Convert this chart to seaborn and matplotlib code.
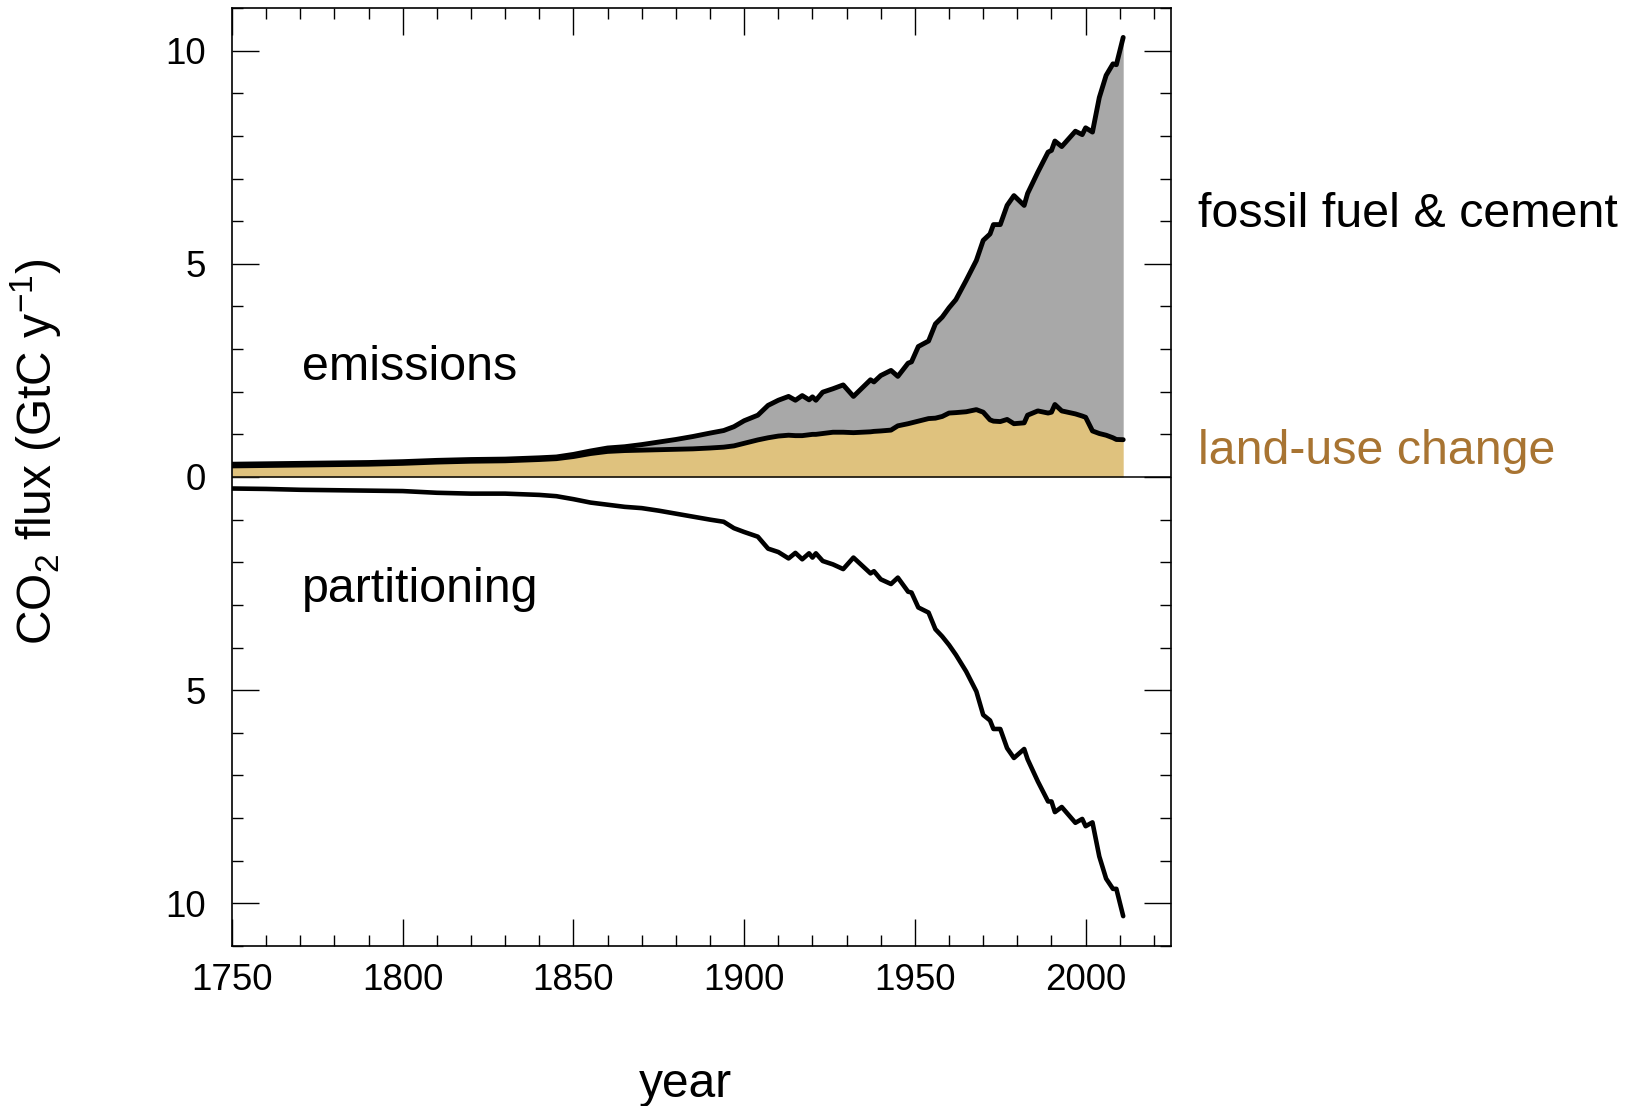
import numpy as np
import pandas as pd
import matplotlib
matplotlib.use("Agg")
import matplotlib.pyplot as plt
from matplotlib.ticker import MultipleLocator, FixedLocator, FixedFormatter
import seaborn as sns

# ---------------- data (GtC per year) ----------------
years = [1750, 1760, 1770, 1780, 1790, 1800, 1810, 1820, 1830, 1840, 1845, 1850,
         1855, 1860, 1865, 1870, 1875, 1880, 1885, 1890, 1894, 1897, 1900, 1904,
         1907, 1910, 1913, 1915, 1917, 1919, 1920, 1921, 1923, 1926, 1929, 1932,
         1937, 1938, 1940, 1943, 1945, 1948, 1949, 1951, 1954, 1956, 1958, 1960,
         1962, 1965, 1968, 1970, 1972, 1973, 1975, 1977, 1979, 1982, 1983, 1986,
         1989, 1990, 1991, 1993, 1997, 1999, 2000, 2002, 2004, 2006, 2008, 2009,
         2011]

# top of the stacked emissions (land-use change + fossil fuel & cement)
emissions_total = [0.30, 0.31, 0.32, 0.33, 0.34, 0.36, 0.39, 0.41, 0.42, 0.45, 0.47, 0.53,
                   0.61, 0.68, 0.71, 0.76, 0.82, 0.88, 0.95, 1.03, 1.09, 1.18, 1.32, 1.45,
                   1.68, 1.80, 1.89, 1.80, 1.91, 1.81, 1.88, 1.80, 1.99, 2.07, 2.16, 1.89,
                   2.28, 2.23, 2.38, 2.50, 2.36, 2.67, 2.70, 3.06, 3.19, 3.59, 3.75, 3.97,
                   4.16, 4.61, 5.08, 5.55, 5.70, 5.92, 5.92, 6.37, 6.60, 6.37, 6.65, 7.15,
                   7.62, 7.66, 7.88, 7.75, 8.11, 8.03, 8.19, 8.09, 8.90, 9.42, 9.69, 9.67,
                   10.31]

land_use_change = [0.26, 0.27, 0.28, 0.29, 0.30, 0.32, 0.35, 0.37, 0.38, 0.41, 0.43, 0.48,
                   0.55, 0.60, 0.62, 0.63, 0.64, 0.65, 0.66, 0.68, 0.70, 0.73, 0.79, 0.87,
                   0.92, 0.96, 0.98, 0.97, 0.97, 0.99, 1.00, 1.00, 1.02, 1.05, 1.05, 1.04,
                   1.06, 1.07, 1.08, 1.10, 1.20, 1.25, 1.27, 1.31, 1.37, 1.38, 1.42, 1.50,
                   1.51, 1.53, 1.58, 1.52, 1.34, 1.31, 1.30, 1.35, 1.25, 1.27, 1.45, 1.55,
                   1.50, 1.52, 1.70, 1.55, 1.48, 1.43, 1.40, 1.08, 1.02, 0.98, 0.92, 0.88,
                   0.875]

# partitioning of emissions into sinks (shown downward)
partitioning = [0.27, 0.28, 0.30, 0.31, 0.32, 0.33, 0.37, 0.39, 0.39, 0.42, 0.45, 0.52,
                0.60, 0.65, 0.70, 0.73, 0.79, 0.86, 0.93, 1.00, 1.05, 1.20, 1.29, 1.40,
                1.68, 1.76, 1.91, 1.78, 1.93, 1.79, 1.89, 1.79, 1.97, 2.05, 2.16, 1.89,
                2.26, 2.21, 2.40, 2.51, 2.36, 2.69, 2.71, 3.06, 3.18, 3.57, 3.74, 3.94,
                4.17, 4.56, 5.03, 5.58, 5.71, 5.91, 5.91, 6.36, 6.59, 6.38, 6.62, 7.14,
                7.61, 7.61, 7.86, 7.74, 8.11, 8.02, 8.19, 8.10, 8.90, 9.42, 9.66, 9.66,
                10.30]

y_major = [-10, -5, 0, 5, 10]
y_major_labels = ["10", "5", "0", "5", "10"]
x_major = [1750, 1800, 1850, 1900, 1950, 2000]

df = pd.DataFrame({"year": years,
                   "total": emissions_total,
                   "land": land_use_change,
                   "sink": -np.asarray(partitioning)})

# ---------------- style ----------------
sns.set_style("ticks")
plt.rcParams["font.family"] = ["Liberation Sans", "DejaVu Sans"]
plt.rcParams["mathtext.fontset"] = "custom"
plt.rcParams["mathtext.rm"] = "Liberation Sans"
plt.rcParams["mathtext.it"] = "Liberation Sans:italic"
plt.rcParams["mathtext.bf"] = "Liberation Sans:bold"
plt.rcParams["text.color"] = "black"
plt.rcParams["axes.labelcolor"] = "black"
plt.rcParams["xtick.color"] = "black"
plt.rcParams["ytick.color"] = "black"
plt.rcParams["xtick.labelcolor"] = "black"
plt.rcParams["ytick.labelcolor"] = "black"

GRAY = "#a8a8a8"
TAN = "#dfc27e"
BROWN = "#a87432"

W, H = 1641, 1106
fig = plt.figure(figsize=(W / 100, H / 100), dpi=100)
ax = fig.add_axes([232 / W, 1 - 946 / H, (1171 - 232) / W, (946 - 8) / H])

# fills
ax.fill_between(df["year"], 0, df["land"], color=TAN, lw=0, zorder=1)
ax.fill_between(df["year"], df["land"], df["total"], color=GRAY, lw=0, zorder=1)

# lines
ax.axhline(0, color="black", lw=1.1, zorder=2)
sns.lineplot(data=df, x="year", y="land", color="black", lw=3.5, ax=ax,
             estimator=None, sort=False, zorder=3)
sns.lineplot(data=df, x="year", y="total", color="black", lw=3.5, ax=ax,
             estimator=None, sort=False, zorder=3)
sns.lineplot(data=df, x="year", y="sink", color="black", lw=3.3, ax=ax,
             estimator=None, sort=False, zorder=3)

ax.set_xlim(1750, 2025)
ax.set_ylim(-11, 11)

ax.xaxis.set_major_locator(FixedLocator(x_major))
ax.xaxis.set_minor_locator(MultipleLocator(10))
ax.yaxis.set_major_locator(FixedLocator(y_major))
ax.yaxis.set_major_formatter(FixedFormatter(y_major_labels))
ax.yaxis.set_minor_locator(MultipleLocator(1))

ax.tick_params(axis="both", which="both", direction="in", top=True, right=True,
               color="black", labelcolor="black", width=1.0)
ax.tick_params(axis="both", which="major", length=19.5, labelsize=26.5)
ax.tick_params(axis="both", which="minor", length=8)
ax.tick_params(axis="y", which="major", pad=19)
ax.tick_params(axis="x", which="major", pad=12)

for sp in ax.spines.values():
    sp.set_linewidth(1.2)
    sp.set_color("black")

ax.set_xlabel("")
ax.set_ylabel("")

# labels
fig.text(36 / W, 1 - 452 / H, r"CO$_2$ flux (GtC y$^{-1}$)", rotation=90,
         ha="center", va="center", fontsize=34.5, color="black")
fig.text(685 / W, 1 - 1097 / H, "year", ha="center", va="baseline", fontsize=34.5,
         color="black")

fig.text(1198 / W, 1 - 227 / H, "fossil fuel & cement", ha="left", va="baseline",
         fontsize=34.8, color="black")
fig.text(1198 / W, 1 - 464 / H, "land-use change", ha="left", va="baseline",
         fontsize=34.8, color=BROWN)
fig.text(302 / W, 1 - 380 / H, "emissions", ha="left", va="baseline", fontsize=34.8,
         color="black")
fig.text(302 / W, 1 - 602 / H, "partitioning", ha="left", va="baseline", fontsize=34.8,
         color="black")

fig.savefig("out.png", dpi=100)
